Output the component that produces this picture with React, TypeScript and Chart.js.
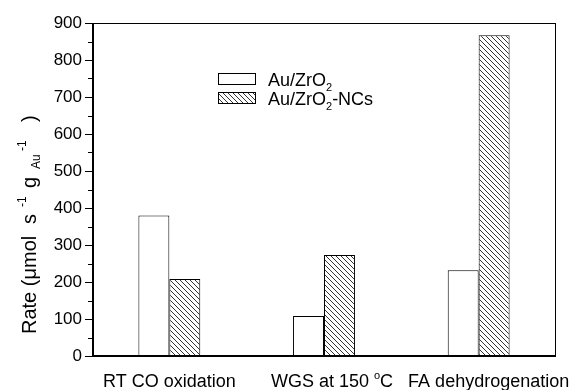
import React, { useEffect, useRef } from "react";
import { Chart, registerables } from "chart.js";

Chart.register(...registerables);

const categories = ["RT CO oxidation", "WGS at 150 \u00B0C", "FA dehydrogenation"];
const auZrO2 = [380, 108, 232];
const auZrO2NCs = [208, 273, 867];
const yTicks = [0, 100, 200, 300, 400, 500, 600, 700, 800, 900];
const yMinorTicks = [50, 150, 250, 350, 450, 550, 650, 750, 850];

function makeHatch(): CanvasPattern | string {
  const c = document.createElement("canvas");
  const s = 5;
  c.width = s;
  c.height = s;
  const g = c.getContext("2d");
  if (!g) return "#fff";
  g.fillStyle = "#fff";
  g.fillRect(0, 0, s, s);
  g.strokeStyle = "#333";
  g.lineWidth = 1;
  g.beginPath();
  g.moveTo(-1, -1);
  g.lineTo(s + 1, s + 1);
  g.moveTo(-1, s - 1);
  g.lineTo(1, s + 1);
  g.moveTo(s - 1, -1);
  g.lineTo(s + 1, 1);
  g.stroke();
  const p = g.createPattern(c, "repeat");
  return p || "#fff";
}

const FONT = "Arial, 'Liberation Sans', sans-serif";

type Part = { t: string; size: number; dy?: number; at?: number };

const decorPlugin = {
  id: "decor",
  afterDraw(chart: any) {
    const ctx = chart.ctx;
    const a = chart.chartArea;
    const y = chart.scales.y;
    const x = chart.scales.x;
    ctx.save();
    // frame
    ctx.strokeStyle = "#000";
    ctx.lineWidth = 1;
    ctx.strokeRect(a.left + 0.5, a.top + 0.5, a.right - a.left - 1, a.bottom - a.top);
    ctx.lineWidth = 2;
    ctx.beginPath();
    ctx.moveTo(a.left + 1, a.top);
    ctx.lineTo(a.left + 1, a.bottom + 1);
    ctx.moveTo(a.left, a.bottom);
    ctx.lineTo(a.right, a.bottom);
    ctx.stroke();
    // ticks
    ctx.lineWidth = 1;
    ctx.beginPath();
    yTicks.forEach((v) => {
      const py = Math.round(y.getPixelForValue(v)) + 0.5;
      ctx.moveTo(a.left - 7, py);
      ctx.lineTo(a.left, py);
    });
    yMinorTicks.forEach((v) => {
      const py = Math.round(y.getPixelForValue(v)) + 0.5;
      ctx.moveTo(a.left - 4, py);
      ctx.lineTo(a.left, py);
    });
    ctx.stroke();

    const drawParts = (sx: number, by: number, parts: Part[]) => {
      let cx = sx;
      parts.forEach((p) => {
        ctx.font = `${p.size}px ${FONT}`;
        if (p.at !== undefined) cx = sx + p.at;
        ctx.fillText(p.t, cx, by + (p.dy || 0));
        cx += ctx.measureText(p.t).width;
      });
    };
    const partsWidth = (parts: Part[]) => {
      let w = 0;
      parts.forEach((p) => {
        ctx.font = `${p.size}px ${FONT}`;
        w += ctx.measureText(p.t).width;
      });
      return w;
    };

    // legend
    const lx = 218;
    const boxes = [
      { y: 73, fill: "#fff" },
      { y: 92, fill: chart.data.datasets[1].backgroundColor },
    ];
    boxes.forEach((b) => {
      ctx.fillStyle = b.fill;
      ctx.fillRect(lx, b.y, 37, 11);
      ctx.strokeStyle = "#000";
      ctx.lineWidth = 1;
      ctx.strokeRect(lx + 0.5, b.y + 0.5, 37, 11);
    });
    ctx.fillStyle = "#000";
    ctx.textBaseline = "alphabetic";
    ctx.textAlign = "left";
    drawParts(268, 86, [
      { t: "Au/ZrO", size: 18 },
      { t: "2", size: 11, dy: 5 },
    ]);
    drawParts(268, 105, [
      { t: "Au/ZrO", size: 18 },
      { t: "2", size: 11, dy: 5 },
      { t: "-NCs", size: 18 },
    ]);

    // x labels
    const xLabelParts: Part[][] = [
      [{ t: "RT CO oxidation", size: 18 }],
      [
        { t: "WGS at 150 ", size: 18 },
        { t: "o", size: 11, dy: -8 },
        { t: "C", size: 18 },
      ],
      [{ t: "FA dehydrogenation", size: 18 }],
    ];
    const xShift = [0, 8, 10];
    xLabelParts.forEach((parts, i) => {
      const w = partsWidth(parts);
      const cx = x.getPixelForValue(i) + xShift[i];
      drawParts(cx - w / 2, 387, parts);
    });

    // y title
    ctx.translate(36, 334);
    ctx.rotate(-Math.PI / 2);
    drawParts(0, 0, [
      { t: "Rate (\u03BCmol", size: 20, at: 0 },
      { t: "s", size: 20, at: 110 },
      { t: "-1", size: 12, dy: -10, at: 127 },
      { t: "g", size: 20, at: 146 },
      { t: "Au", size: 12, dy: 4, at: 165 },
      { t: "-1", size: 12, dy: -10, at: 183 },
      { t: ")", size: 20, at: 212 },
    ]);
    ctx.restore();
  },
};

export default function App() {
  const ref = useRef<HTMLCanvasElement>(null);
  useEffect(() => {
    if (!ref.current) return;
    const hatch = makeHatch();
    const chart = new Chart(ref.current, {
      type: "bar",
      data: {
        labels: categories,
        datasets: [
          {
            label: "Au/ZrO2",
            data: auZrO2,
            backgroundColor: "#fff",
            borderColor: "#000",
            borderWidth: 1,
            barPercentage: 1,
            categoryPercentage: 0.4,
          },
          {
            label: "Au/ZrO2-NCs",
            data: auZrO2NCs,
            backgroundColor: hatch as any,
            borderColor: "#000",
            borderWidth: 1,
            barPercentage: 1,
            categoryPercentage: 0.4,
          },
        ],
      },
      options: {
        responsive: false,
        animation: false,
        layout: { padding: { top: 23, right: 17, left: 0, bottom: 0 } },
        plugins: { legend: { display: false }, tooltip: { enabled: false } },
        scales: {
          x: {
            grid: { display: false, drawTicks: false },
            border: { display: false },
            ticks: { display: false },
            afterFit(s: any) {
              s.height = 34;
            },
          },
          y: {
            min: 0,
            max: 900,
            grid: { display: false, drawTicks: false },
            border: { display: false },
            ticks: {
              stepSize: 100,
              color: "#000",
              font: { size: 17, family: FONT },
              padding: 10,
            },
            afterFit(s: any) {
              s.width = 92;
            },
          },
        },
      },
      plugins: [decorPlugin],
    });
    return () => chart.destroy();
  }, []);
  return (
    <div style={{ position: "fixed", left: 0, top: 0, width: 573, height: 390, background: "#fff" }}>
      <canvas ref={ref} width={573} height={390} />
    </div>
  );
}
